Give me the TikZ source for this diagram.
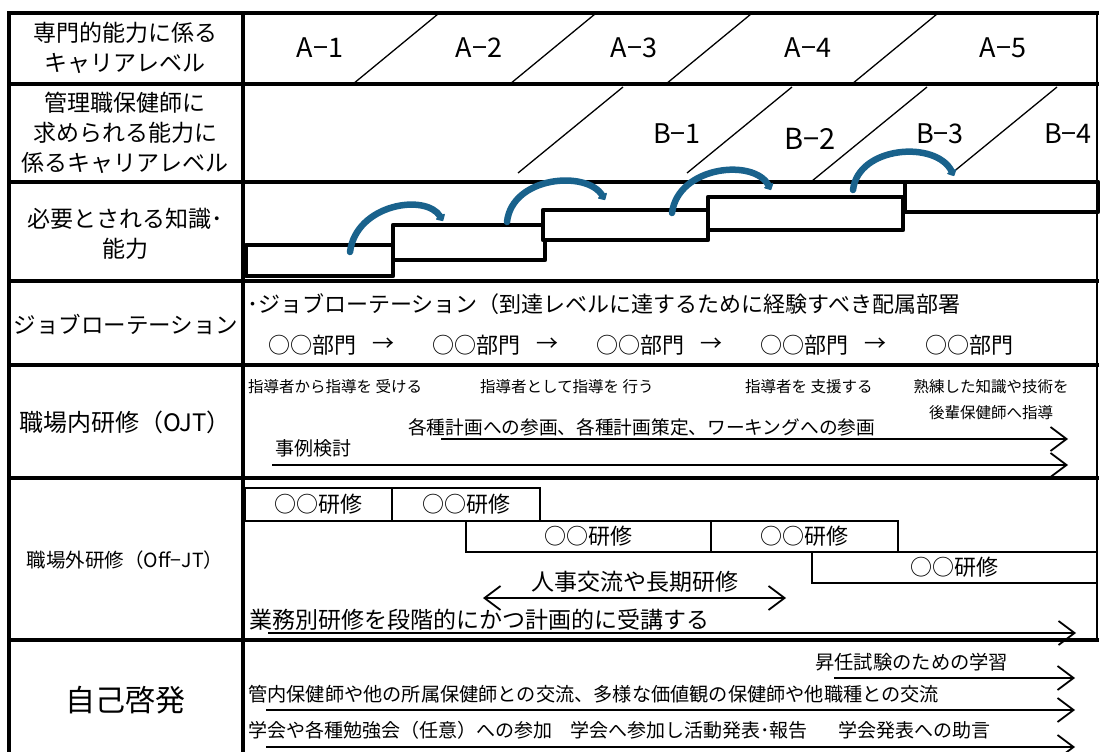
\documentclass[tikz,border=0pt]{standalone}
\usepackage{fontspec}
\setmainfont{Noto Sans CJK JP}
\usetikzlibrary{arrows.meta}
\definecolor{arcblue}{RGB}{25,98,140}
\tikzset{
  frame/.style={line width=3.5pt, line cap=rect},
  thinframe/.style={line width=2pt},
  diag/.style={line width=1.3pt},
  lab/.style={font=\fontsize{23}{30}\selectfont, align=center, inner sep=0pt},
  lvl/.style={font=\fontsize{27}{27}\selectfont, inner sep=0pt},
  txt/.style={anchor=west, inner sep=0pt},
  stairbox/.style={draw, line width=4.5pt, fill=white, line join=round},
  curl/.style={draw=arcblue, line width=6.5pt, line cap=round, -{Triangle[length=6pt,width=12pt,round]}},
  harr/.style={line width=1.8pt, -{Straight Barb[length=16pt,width=24pt]}},
  dharr/.style={line width=1.8pt, {Straight Barb[length=16pt,width=24pt]}-{Straight Barb[length=16pt,width=24pt]}},
  kbox/.style={draw, line width=1.5pt, inner sep=0pt, font=\fontsize{22}{22}\selectfont}
}
\begin{document}
\begin{tikzpicture}[x=1pt,y=-1pt]
\useasboundingbox (0,0) rectangle (1100,752);
\fill[white] (0,0) rectangle (1100,752);

% ---------- diagonals (rows A and B)
\foreach \b in {353,510,666,852} \draw[diag] (\b,84) -- (\b+85,14);
\draw[diag] (518,173) -- (623,87);
\draw[diag] (687,173) -- (792,87);
\draw[diag] (812,181) -- (927,87);
\draw[diag] (952,173) -- (1057,87);

% ---------- table frame
\draw[frame] (9,752) -- (9,13) -- (1097,13);
\draw[frame] (243,13) -- (243,752);
\draw[thinframe] (1097,13) -- (1097,640);
\foreach \yy in {84,182,281,365,478,640} \draw[frame] (9,\yy) -- (1097,\yy);

% ---------- row labels
\node[lab] (l1) at (125,48) {専門的能力に係る\\キャリアレベル};
\node[lab] (l2) at (125,133) {管理職保健師に\\求められる能力に\\係るキャリアレベル};
\node[lab] (l3) at (125,234) {必要とされる知識･\\能力};
\node[lab, font=\fontsize{22.5}{30}\selectfont] (l4) at (126,324) {ジョブローテーション};
\node[lab, font=\fontsize{24}{30}\selectfont] (l5) at (125,422) {職場内研修（OJT）};
\node[lab, font=\fontsize{19.5}{30}\selectfont] (l6) at (125,560) {職場外研修（Off−JT）};
\node[lab, font=\fontsize{30}{30}\selectfont] (l7) at (125,700) {自己啓発};

% ---------- level labels
\node[lvl] (a1) at (320,48) {A−1};
\node[lvl] (a2) at (479,48) {A−2};
\node[lvl] (a3) at (634,48) {A−3};
\node[lvl] (a4) at (808,48) {A−4};
\node[lvl] (a5) at (1003,48) {A−5};
\node[lvl] (b1) at (677,134) {B−1};
\node[lvl, font=\fontsize{29}{29}\selectfont] (b2) at (810,139) {B−2};
\node[lvl] (b3) at (940,134) {B−3};
\node[lvl] (b4) at (1068,134) {B−4};

% ---------- stairs
\node[stairbox, minimum width=147pt, minimum height=31pt, inner sep=0pt] (s1) at (319.5,260.5) {};
\node[stairbox, minimum width=152pt, minimum height=35pt, inner sep=0pt] (s2) at (469,242.5) {};
\node[stairbox, minimum width=165pt, minimum height=30pt, inner sep=0pt] (s3) at (625.5,225) {};
\node[stairbox, minimum width=195pt, minimum height=33pt, inner sep=0pt] (s4) at (805.5,213.5) {};
\node[stairbox, minimum width=193pt, minimum height=30pt, inner sep=0pt] (s5) at (1001.5,197) {};

% ---------- blue curved arrows
\coordinate (c1s) at (350,252); \coordinate (c1e) at (443,221);
\coordinate (c2s) at (507,222); \coordinate (c2e) at (605,200);
\coordinate (c3s) at (672,213); \coordinate (c3e) at (771,190);
\coordinate (c4s) at (853,190); \coordinate (c4e) at (954,176);
\draw[curl] (c1s) .. controls (356,204) and (426,193) .. (c1e);
\draw[curl] (c2s) .. controls (512,176) and (587,170) .. (c2e);
\draw[curl] (c3s) .. controls (678,166) and (754,158) .. (c3e);
\draw[curl] (c4s) .. controls (858,146) and (936,140) .. (c4e);

% ---------- job rotation
\node[txt, font=\fontsize{22}{22}\selectfont] (jr) at (247,304) {･ジョブローテーション（到達レベルに達するために経験すべき配属部署};
\foreach \xx/\nm in {268/d1,432/d2,596/d3,760/d4,925/d5}
  \node[txt, font=\fontsize{22}{22}\selectfont] (\nm) at (\xx,345) {○○部門};
\foreach \xx/\nm in {383/r1,547/r2,711/r3,875/r4}
  \node[inner sep=0pt, font=\fontsize{22}{22}\selectfont] (\nm) at (\xx,345) {→};

% ---------- OJT
\node[txt, font=\fontsize{15.5}{16}\selectfont] (o1) at (248,387) {指導者から指導を 受ける};
\node[txt, font=\fontsize{15.5}{16}\selectfont] (o2) at (480,387) {指導者として指導を 行う};
\node[txt, font=\fontsize{15.5}{16}\selectfont] (o3) at (745,387) {指導者を 支援する};
\node[inner sep=0pt, font=\fontsize{15.5}{16}\selectfont] (o4) at (991,387) {熟練した知識や技術を};
\node[inner sep=0pt, font=\fontsize{15.5}{16}\selectfont] (o5) at (991,413) {後輩保健師へ指導};
\node[txt, font=\fontsize{18.7}{19}\selectfont] (o6) at (408,427) {各種計画への参画、各種計画策定、ワーキングへの参画};
\node[txt, font=\fontsize{19}{19}\selectfont] (o7) at (275,448) {事例検討};
\coordinate (oa1s) at (441,439); \coordinate (oa1e) at (1068,439);
\coordinate (oa2s) at (272,465); \coordinate (oa2e) at (1068,465);
\draw[harr] (oa1s) -- (oa1e);
\draw[harr] (oa2s) -- (oa2e);

% ---------- Off-JT boxes
\node[kbox, minimum width=147pt, minimum height=33pt] (k1) at (318.5,504.5) {○○研修};
\node[kbox, minimum width=148pt, minimum height=33pt] (k2) at (466,504.5) {○○研修};
\node[kbox, minimum width=245pt, minimum height=31pt] (k3) at (588.5,536.5) {○○研修};
\node[kbox, minimum width=187pt, minimum height=31pt] (k4) at (804.5,536.5) {○○研修};
\node[kbox, minimum width=285pt, minimum height=31pt] (k5) at (954.5,567.5) {○○研修};
\node[inner sep=0pt, font=\fontsize{23}{23}\selectfont] (f1) at (635,582) {人事交流や長期研修};
\coordinate (fa1s) at (483,598); \coordinate (fa1e) at (786,598);
\draw[dharr] (fa1s) -- (fa1e);
\node[txt, font=\fontsize{23}{23}\selectfont] (f2) at (249,620) {業務別研修を段階的にかつ計画的に受講する};
\coordinate (fa2s) at (268,633); \coordinate (fa2e) at (1076,633);
\draw[harr] (fa2s) -- (fa2e);

% ---------- self development
\node[txt, font=\fontsize{19.3}{19}\selectfont] (e1) at (815,662) {昇任試験のための学習};
\coordinate (ea1s) at (834,678); \coordinate (ea1e) at (1075,678);
\draw[harr] (ea1s) -- (ea1e);
\node[txt, font=\fontsize{19.2}{19}\selectfont] (e2) at (248,694) {管内保健師や他の所属保健師との交流、多様な価値観の保健師や他職種との交流};
\coordinate (ea2s) at (266,710); \coordinate (ea2e) at (1075,710);
\draw[harr] (ea2s) -- (ea2e);
\node[txt, font=\fontsize{19}{19}\selectfont] (e3) at (248,730) {学会や各種勉強会（任意）への参加};
\node[txt, font=\fontsize{19}{19}\selectfont] (e4) at (570,730) {学会へ参加し活動発表･報告};
\node[txt, font=\fontsize{19}{19}\selectfont] (e5) at (838,730) {学会発表への助言};
\coordinate (ea3s) at (266,747); \coordinate (ea3e) at (1075,747);
\draw[harr] (ea3s) -- (ea3e);
\end{tikzpicture}
\end{document}
